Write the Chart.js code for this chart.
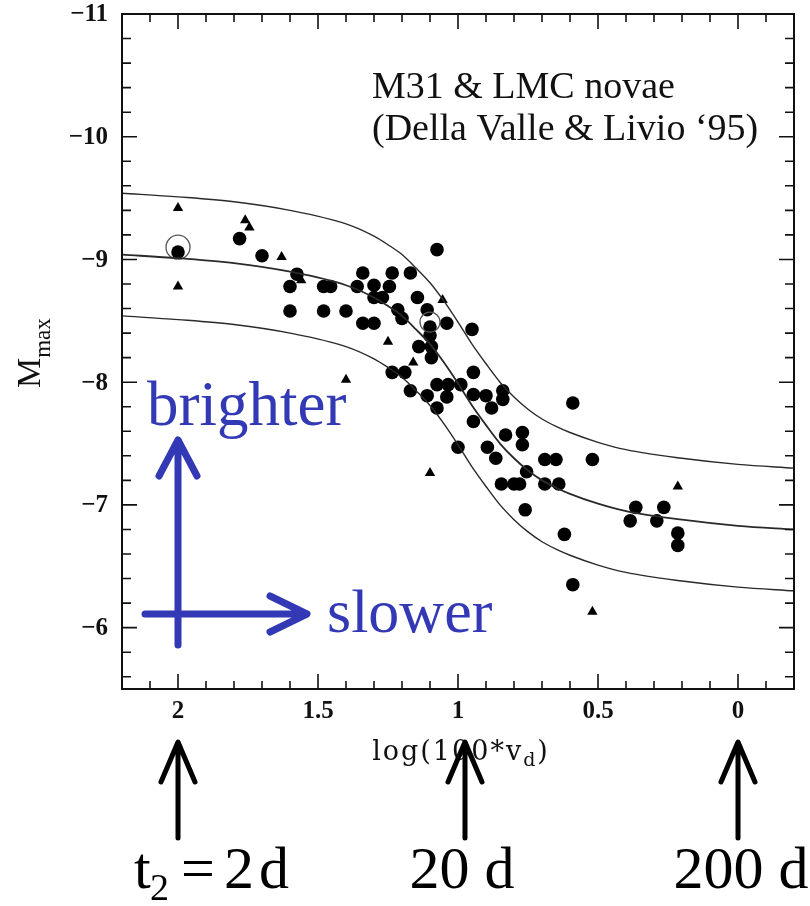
<!DOCTYPE html>
<html lang="en">
<head>
<meta charset="UTF-8" />
<title>Nova MMRD</title>
<script src="https://cdn.jsdelivr.net/npm/chart.js"></script>
<style>
  body { margin: 0; background: #fff; }
  .wrap { width: 810px; height: 906px; position: relative; }
</style>
</head>
<body>
<div class="wrap"><canvas id="mmrd"></canvas></div>
<script>
  // filled circles (M31 novae)
  const circleX = [2.00, 1.78, 1.70, 1.575, 1.60, 1.60, 1.48, 1.455, 1.48, 1.40, 1.36,
    1.34, 1.30, 1.235, 1.17, 1.245, 1.30, 1.27, 1.34, 1.30, 1.215, 1.20, 1.145, 1.11,
    1.04, 0.95, 1.10, 1.10, 1.075, 1.14, 1.095, 1.095, 1.235, 1.19, 1.17, 1.11, 1.075,
    1.035, 0.99, 0.945, 0.945, 1.04, 1.075, 0.90, 0.88, 0.84, 0.84, 0.59, 0.945, 0.83,
    0.77, 0.77, 1.00, 0.895, 0.865, 0.69, 0.65, 0.52, 0.755, 0.845, 0.80, 0.78, 0.69,
    0.64, 0.76, 0.62, 0.59, 0.365, 0.385, 0.265, 0.29, 0.215, 0.215];
  const circleY = [-9.06, -9.17, -9.03, -8.88, -8.78, -8.58, -8.78, -8.78, -8.58, -8.58, -8.78,
    -8.89, -8.79, -8.89, -8.89, -8.78, -8.69, -8.69, -8.48, -8.48, -8.59, -8.52, -8.69, -8.59,
    -8.48, -8.43, -8.45, -8.38, -9.08, -8.29, -8.29, -8.20, -8.08, -8.08, -7.93, -7.89, -7.98,
    -7.98, -7.98, -8.08, -7.90, -7.88, -7.79, -7.89, -7.79, -7.93, -7.86, -7.83, -7.68, -7.57,
    -7.59, -7.49, -7.47, -7.47, -7.38, -7.37, -7.37, -7.37, -7.27, -7.17, -7.17, -7.17, -7.17,
    -7.17, -6.96, -6.76, -6.35, -6.98, -6.87, -6.98, -6.87, -6.77, -6.67];

  // triangles (LMC novae)
  const triX = [2.00, 2.00, 1.76, 1.745, 1.63, 1.56, 1.40, 1.25, 1.16, 1.055, 1.10, 0.52, 0.215];
  const triY = [-9.42, -8.78, -9.32, -9.26, -9.02, -8.83, -8.02, -8.33, -8.16, -8.67, -7.26, -6.13, -7.15];

  // open circles
  const openX = [2.00, 1.10];
  const openY = [-9.10, -8.49];

  // fitted relation and +/- 0.5 mag envelope
  const curveX = [2.2, 2.0, 1.8, 1.6, 1.4, 1.3, 1.25, 1.2, 1.15, 1.1, 1.05, 1.0, 0.95, 0.9,
    0.85, 0.8, 0.75, 0.7, 0.65, 0.6, 0.5, 0.4, 0.2, 0, -0.2];
  const meanCurve = [-9.04, -9.01, -8.97, -8.90, -8.79, -8.69, -8.62, -8.54, -8.43, -8.31, -8.16,
    -7.99, -7.81, -7.65, -7.50, -7.38, -7.28, -7.20, -7.14, -7.09, -7.01, -6.95, -6.88, -6.83, -6.80];
  const upperCurve = [-9.54, -9.51, -9.47, -9.40, -9.29, -9.19, -9.12, -9.04, -8.93, -8.81, -8.66,
    -8.49, -8.31, -8.15, -8.00, -7.88, -7.78, -7.70, -7.64, -7.59, -7.51, -7.45, -7.38, -7.33, -7.30];
  const lowerCurve = [-8.54, -8.51, -8.47, -8.40, -8.29, -8.19, -8.12, -8.04, -7.93, -7.81, -7.66,
    -7.49, -7.31, -7.15, -7.00, -6.88, -6.78, -6.70, -6.64, -6.59, -6.51, -6.45, -6.38, -6.33, -6.30];

  const xTicks = [2, 1.5, 1, 0.5, 0];
  const xTickLabels = ["2", "1.5", "1", "0.5", "0"];
  const yTicks = [-11, -10, -9, -8, -7, -6];
  const yTickLabels = ["\u221211", "\u221210", "\u22129", "\u22128", "\u22127", "\u22126"];

  const t2Pos = [2, 0.975, 0];
  const t2Labels = ["2 d", "20 d", "200 d"];

  const BLUE = "#3339b5";

  function toPoints(xs, ys) {
    return xs.map((v, i) => ({ x: v, y: ys[i] }));
  }

  const decor = {
    id: "decor",
    afterDatasetsDraw(chart) {
      const { ctx, chartArea: a } = chart;
      const xs = chart.scales.x, ys = chart.scales.y;
      ctx.save();

      // frame
      ctx.strokeStyle = "#111";
      ctx.lineWidth = 2;
      ctx.strokeRect(a.left, a.top, a.right - a.left, a.bottom - a.top);

      // inward ticks
      ctx.lineWidth = 1.6;
      ctx.beginPath();
      for (let i = 1; i < 24; i++) {
        const v = 2.2 - i * 0.1;
        const px = xs.getPixelForValue(v);
        const len = i % 5 === 2 ? 15 : 8;
        ctx.moveTo(px, a.bottom); ctx.lineTo(px, a.bottom - len);
        ctx.moveTo(px, a.top); ctx.lineTo(px, a.top + len);
      }
      for (let i = 1; i < 28; i++) {
        const v = -11 + i * 0.2;
        const py = ys.getPixelForValue(v);
        const len = i % 5 === 0 ? 15 : 9;
        ctx.moveTo(a.left, py); ctx.lineTo(a.left + len, py);
        ctx.moveTo(a.right, py); ctx.lineTo(a.right - len, py);
      }
      ctx.stroke();

      // tick labels
      ctx.fillStyle = "#111";
      ctx.font = "bold 25px 'Liberation Serif'";
      ctx.textAlign = "right";
      ctx.textBaseline = "middle";
      yTicks.forEach((v, i) => ctx.fillText(yTickLabels[i], 108, ys.getPixelForValue(v) + 1));
      ctx.textAlign = "center";
      xTicks.forEach((v, i) => ctx.fillText(xTickLabels[i], xs.getPixelForValue(v), a.bottom + 23));

      // x title
      ctx.letterSpacing = "2px";
      ctx.textBaseline = "alphabetic";
      ctx.textAlign = "left";
      const main = "log(100*v";
      ctx.font = "27px 'DejaVu Serif'";
      const wMain = ctx.measureText(main).width;
      ctx.font = "19px 'DejaVu Serif'";
      const wSub = ctx.measureText("d").width;
      ctx.font = "27px 'DejaVu Serif'";
      const wEnd = ctx.measureText(")").width;
      let tx = 461 - (wMain + wSub + wEnd) / 2;
      ctx.fillText(main, tx, 760);
      ctx.font = "19px 'DejaVu Serif'";
      ctx.fillText("d", tx + wMain, 766);
      ctx.font = "27px 'DejaVu Serif'";
      ctx.fillText(")", tx + wMain + wSub, 760);
      ctx.letterSpacing = "0px";

      // y title
      ctx.save();
      ctx.translate(40, 388);
      ctx.rotate(-Math.PI / 2);
      ctx.font = "34px 'Liberation Serif'";
      ctx.fillText("M", 0, 0);
      const wM = ctx.measureText("M").width;
      ctx.font = "23px 'Liberation Serif'";
      ctx.fillText("max", wM, 10);
      ctx.restore();

      // annotation
      ctx.font = "38px 'Liberation Serif'";
      ctx.fillText("M31 & LMC novae", 372, 98);
      ctx.fillText("(Della Valle & Livio \u201895)", 372, 140);

      // blue direction arrows
      ctx.strokeStyle = BLUE;
      ctx.fillStyle = BLUE;
      ctx.lineWidth = 7;
      ctx.lineCap = "round";
      ctx.lineJoin = "round";
      const bx = xs.getPixelForValue(2);
      ctx.beginPath();
      ctx.moveTo(bx, 645); ctx.lineTo(bx, 442);
      ctx.moveTo(bx - 19, 476); ctx.lineTo(bx, 440); ctx.lineTo(bx + 19, 476);
      ctx.moveTo(145, 614); ctx.lineTo(306, 614);
      ctx.moveTo(270, 596); ctx.lineTo(307, 614); ctx.lineTo(270, 632);
      ctx.stroke();
      ctx.font = "63px 'Liberation Serif'";
      ctx.fillText("brighter", 147, 425);
      ctx.font = "62px 'Liberation Serif'";
      ctx.fillText("slower", 327, 632);

      // black t2 arrows
      ctx.strokeStyle = "#000";
      ctx.fillStyle = "#000";
      ctx.lineWidth = 5;
      t2Pos.forEach((v) => {
        const px = xs.getPixelForValue(v);
        ctx.beginPath();
        ctx.moveTo(px, 838); ctx.lineTo(px, 744);
        ctx.moveTo(px - 17, 782); ctx.lineTo(px, 742); ctx.lineTo(px + 17, 782);
        ctx.stroke();
      });
      ctx.textAlign = "left";
      // first label carries "t2 ="
      const p0 = xs.getPixelForValue(t2Pos[0]);
      const firstParts = t2Labels[0].split(" ");
      ctx.font = "60px 'Liberation Serif'";
      ctx.fillText("t", p0 - 44, 888);
      ctx.font = "38px 'Liberation Serif'";
      ctx.fillText("2", p0 - 28, 900);
      ctx.font = "60px 'Liberation Serif'";
      ctx.fillText("=", p0 + 3, 888);
      ctx.fillText(firstParts[0], p0 + 46, 888);
      ctx.fillText(firstParts[1], p0 + 81, 888);
      ctx.textAlign = "center";
      ctx.fillText(t2Labels[1], xs.getPixelForValue(t2Pos[1]) - 3, 888);
      ctx.fillText(t2Labels[2], xs.getPixelForValue(t2Pos[2]) + 3, 888);

      ctx.restore();
    }
  };

  const lineStyle = {
    showLine: true,
    borderColor: "#2a2a2a",
    borderWidth: 1.4,
    pointRadius: 0,
    cubicInterpolationMode: "monotone",
    fill: false
  };

  new Chart(document.getElementById("mmrd").getContext("2d"), {
    type: "scatter",
    data: {
      datasets: [
        { label: "upper", data: toPoints(curveX, upperCurve), ...lineStyle },
        { label: "mean", data: toPoints(curveX, meanCurve), ...lineStyle, borderWidth: 1.8 },
        { label: "lower", data: toPoints(curveX, lowerCurve), ...lineStyle },
        {
          label: "open", data: toPoints(openX, openY),
          pointStyle: "circle", pointRadius: [12, 10],
          backgroundColor: "rgba(0,0,0,0)", borderColor: "#555", borderWidth: 1.3
        },
        {
          label: "M31", data: toPoints(circleX, circleY),
          pointStyle: "circle", pointRadius: 6.8,
          backgroundColor: "#000", borderWidth: 0
        },
        {
          label: "LMC", data: toPoints(triX, triY),
          pointStyle: "triangle", pointRadius: 6,
          backgroundColor: "#000", borderWidth: 0
        }
      ]
    },
    options: {
      responsive: true,
      maintainAspectRatio: false,
      animation: false,
      layout: { padding: { left: 122, right: 16, top: 14, bottom: 217 } },
      plugins: { legend: { display: false }, tooltip: { enabled: false } },
      scales: {
        x: { type: "linear", min: -0.2, max: 2.2, reverse: true, display: false },
        y: { type: "linear", min: -11, max: -5.5, reverse: true, display: false }
      }
    },
    plugins: [decor]
  });
</script>
</body>
</html>
